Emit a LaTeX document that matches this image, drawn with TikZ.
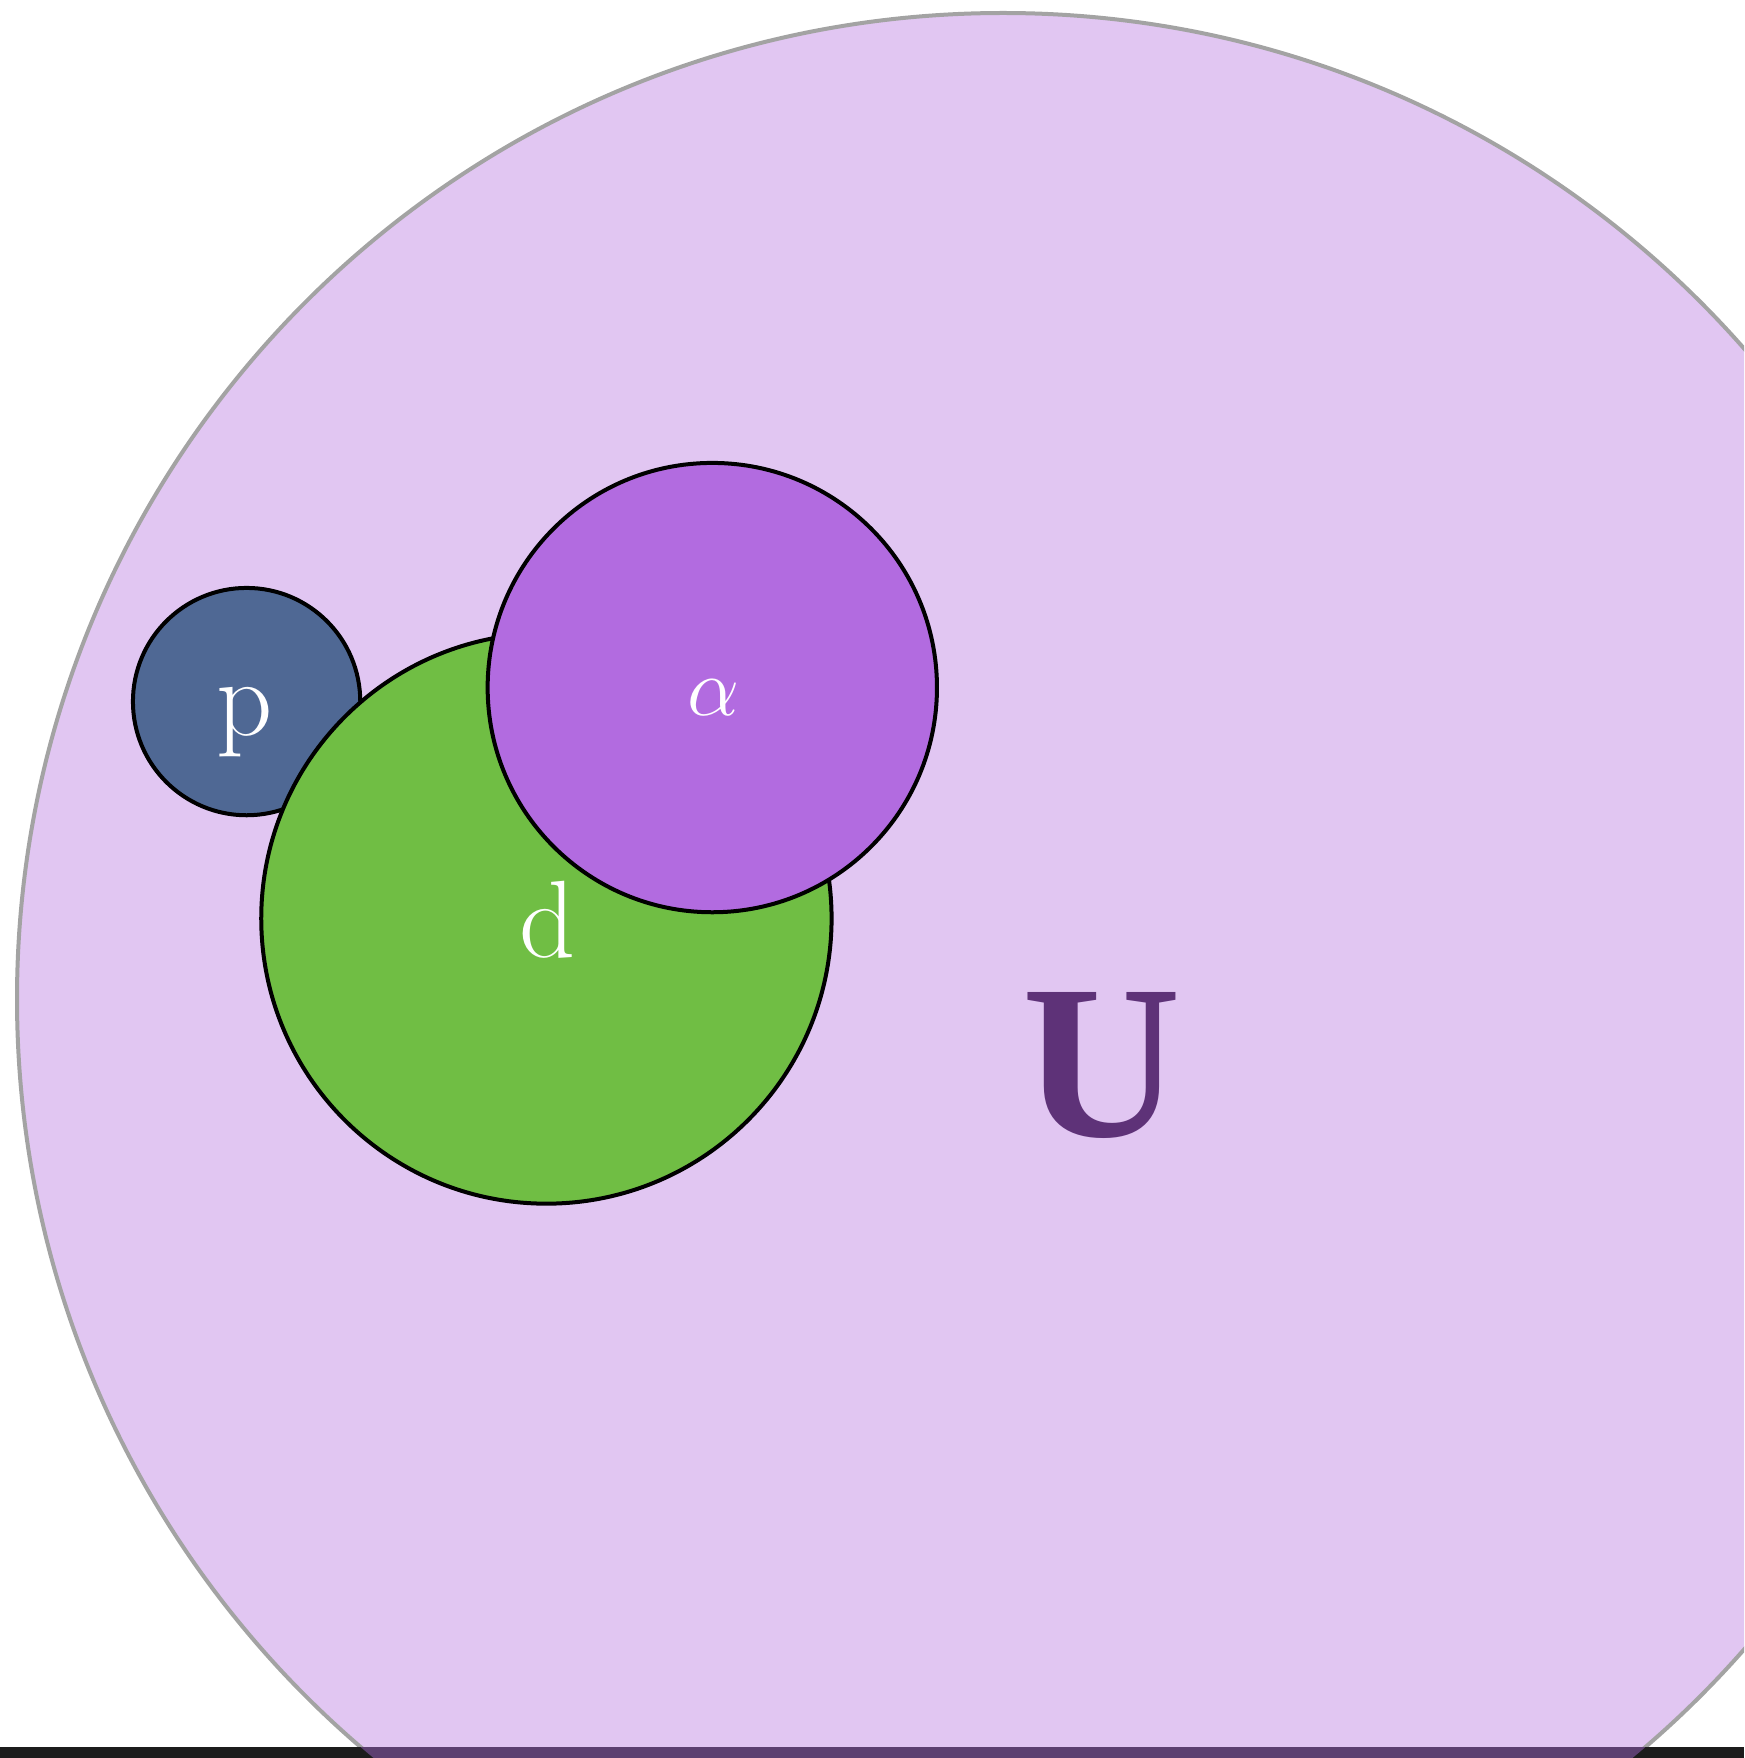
\documentclass[tikz,border=0pt]{standalone}
\usepackage{fontspec}
\newfontfamily\univfont{Liberation Serif}
\usetikzlibrary{positioning}

\definecolor{univFill}{HTML}{E1C6F2}
\definecolor{univEdge}{HTML}{A3A3A3}
\definecolor{univText}{HTML}{5E3278}
\definecolor{pFill}{HTML}{4F6894}
\definecolor{dFill}{HTML}{70BE44}
\definecolor{aFill}{HTML}{B26BE0}
\definecolor{barDark}{HTML}{1C1C1C}
\definecolor{barPurple}{HTML}{5C3F70}

\tikzset{
  setcirc/.style={circle, draw=black, line width=1.2pt, inner sep=0pt},
  setname/.style={text=white, font=\fontsize{33}{33}\selectfont, inner sep=0pt},
}

\begin{document}
\begin{tikzpicture}[x=0.3pt,y=-0.3pt]
\useasboundingbox (0,0) rectangle (1744,1758);
\clip (0,0) rectangle (1744,1758);

% universe
\node[circle, fill=univFill, draw=univEdge, line width=1.2pt, inner sep=0pt,
      minimum size=591.6pt] (univ) at (1003,999) {};
\node[text=univText, font=\univfont\bfseries\fontsize{66}{66}\selectfont, inner sep=0pt]
      (ulabel) at (1102,1065) {U};

% the sets
\node[setcirc, fill=pFill, minimum size=68.2pt] (pset) at (246.6,701.6) {};
\node[setcirc, fill=dFill, minimum size=171.1pt] (dset) at (546.4,918.5) {};
\node[setcirc, fill=aFill, minimum size=134.8pt] (aset) at (712.3,687.6) {};

\node[setname] (plabel) at (245,722) {p};
\node[setname] (dlabel) at (548,920) {d};
\node[setname] (alabel) at (714,698) {$\alpha$};

% dark bar at the bottom
\fill[barDark] (0,1747) rectangle (1744,1758);
\begin{scope}
  \clip (0,1747) rectangle (1744,1758);
  \fill[barPurple] (univ.center) circle[radius=986];
\end{scope}
\end{tikzpicture}
\end{document}
